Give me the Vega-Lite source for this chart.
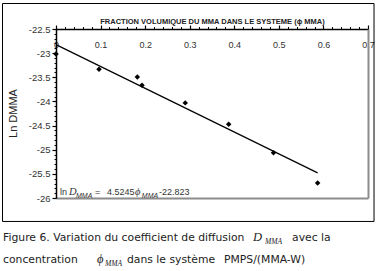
{
  "$schema": "https://vega.github.io/schema/vega-lite/v6.json",
  "width": 312,
  "height": 169,
  "autosize": {"type": "none"},
  "padding": {"left": 56, "top": 29, "right": 9, "bottom": 73},
  "background": "white",
  "config": {
    "view": {"stroke": null},
    "axis": {"grid": false, "labelFont": "Liberation Sans", "titleFont": "Liberation Sans", "labelColor": "#333", "titleColor": "#222", "domainColor": "black", "tickColor": "black"}
  },
  "datasets": {
    "pts": [
      {"phi": 0.0, "lnD": -23.02},
      {"phi": 0.0965, "lnD": -23.335},
      {"phi": 0.1825, "lnD": -23.494},
      {"phi": 0.193, "lnD": -23.666},
      {"phi": 0.29, "lnD": -24.03},
      {"phi": 0.3874, "lnD": -24.474},
      {"phi": 0.488, "lnD": -25.065},
      {"phi": 0.587, "lnD": -25.69}
    ],
    "fit": [
      {"phi": 0.0, "lnD": -22.823},
      {"phi": 0.587, "lnD": -25.479}
    ],
    "txt": [
      {"g": "eq", "x": 0.009, "y": -25.938, "t": "ln"},
      {"g": "eq", "x": 0.0875, "y": -25.938, "t": "="},
      {"g": "eq", "x": 0.1144, "y": -25.938, "t": "4.5245"},
      {"g": "eq", "x": 0.2311, "y": -25.938, "t": "-22.823"},
      {"g": "eqi", "x": 0.0292, "y": -25.938, "t": "D"},
      {"g": "eqi", "x": 0.1775, "y": -25.938, "t": "ϕ"},
      {"g": "eqs", "x": 0.0449, "y": -26.0, "t": "MMA"},
      {"g": "eqs", "x": 0.1925, "y": -26.0, "t": "MMA"},
      {"g": "cap", "x": -0.1189, "y": -26.89, "t": "Figure 6. Variation du coefficient de diffusion"},
      {"g": "cap", "x": 0.5296, "y": -26.89, "t": "avec la"},
      {"g": "cap", "x": -0.1189, "y": -27.346, "t": "concentration"},
      {"g": "cap", "x": 0.1593, "y": -27.346, "t": "dans le système"},
      {"g": "cap", "x": 0.3770, "y": -27.346, "t": "PMPS/(MMA-W)"},
      {"g": "capi", "x": 0.4420, "y": -26.89, "t": "D"},
      {"g": "capi", "x": 0.0920, "y": -27.346, "t": "ϕ"},
      {"g": "caps", "x": 0.4690, "y": -26.952, "t": "MMA"},
      {"g": "caps", "x": 0.1100, "y": -27.408, "t": "MMA"}
    ],
    "frame": [
      {"x1": -0.12, "x2": 0.7135, "y1": -21.972, "y2": -26.486}
    ]
  },
  "resolve": {"axis": {"x": "independent", "y": "independent"}},
  "layer": [
    {
      "data": {"name": "pts"},
      "mark": {"type": "point", "shape": "diamond", "filled": true, "color": "black", "size": 30, "opacity": 1},
      "encoding": {
        "x": {"field": "phi", "type": "quantitative", "scale": {"domain": [0, 0.7], "nice": false, "zero": false},
          "axis": {"orient": "top", "values": [0, 0.1, 0.2, 0.3, 0.4, 0.5, 0.6, 0.7], "format": "~g", "tickSize": 4, "tickWidth": 1.2, "domainWidth": 1.5, "labelPadding": -15, "labelBaseline": "top", "labelFontSize": 9, "labelFlush": false, "labelOverlap": false,
            "title": "FRACTION VOLUMIQUE DU MMA DANS LE SYSTEME (ϕ MMA)", "titleFontSize": 7.5, "titleFontWeight": "bold", "titleY": -6, "titleBaseline": "alphabetic"}},
        "y": {"field": "lnD", "type": "quantitative", "scale": {"domain": [-26, -22.5], "nice": false, "zero": false},
          "axis": {"orient": "left", "values": [-22.5, -23, -23.5, -24, -24.5, -25, -25.5, -26], "format": "~g", "labelExpr": "replace(datum.label, '−', '-')", "tickSize": 4, "tickWidth": 1.2, "domainWidth": 1.5, "labelPadding": 2, "labelFontSize": 9.5, "labelOverlap": false, "labelFlush": false,
            "title": "Ln DMMA", "titleFontSize": 11, "titleFontWeight": "normal", "titleX": -43, "titleY": 84, "titleAlign": "center", "titleBaseline": "middle", "titleAngle": -90}}
      }
    },
    {
      "data": {"name": "fit"},
      "mark": {"type": "line", "color": "black", "strokeWidth": 1.2},
      "encoding": {
        "x": {"field": "phi", "type": "quantitative",
          "axis": {"orient": "top", "values": [0, 0.02, 0.04, 0.06, 0.08, 0.1, 0.12, 0.14, 0.16, 0.18, 0.2, 0.22, 0.24, 0.26, 0.28, 0.3, 0.32, 0.34, 0.36, 0.38, 0.4, 0.42, 0.44, 0.46, 0.48, 0.5, 0.52, 0.54, 0.56, 0.58, 0.6, 0.62, 0.64, 0.66, 0.68, 0.7], "labels": false, "domain": false, "tickSize": 2.5, "title": null}},
        "y": {"field": "lnD", "type": "quantitative",
          "axis": {"orient": "left", "values": [-22.5, -22.6, -22.7, -22.8, -22.9, -23, -23.1, -23.2, -23.3, -23.4, -23.5, -23.6, -23.7, -23.8, -23.9, -24, -24.1, -24.2, -24.3, -24.4, -24.5, -24.6, -24.7, -24.8, -24.9, -25, -25.1, -25.2, -25.3, -25.4, -25.5, -25.6, -25.7, -25.8, -25.9, -26], "labels": false, "domain": false, "tickSize": 2, "title": null}}
      }
    },
    {
      "data": {"name": "txt"},
      "transform": [{"filter": "datum.g == 'eq'"}],
      "mark": {"type": "text", "align": "left", "baseline": "alphabetic", "font": "Liberation Sans", "fontSize": 9, "color": "#333"},
      "encoding": {
        "x": {"field": "x", "type": "quantitative", "axis": {"orient": "bottom", "domainColor": "#8c8c8c", "domainWidth": 2, "ticks": false, "labels": false, "title": null}},
        "y": {"field": "y", "type": "quantitative", "axis": {"orient": "right", "domainColor": "#8c8c8c", "domainWidth": 2, "ticks": false, "labels": false, "title": null}},
        "text": {"field": "t"}
      }
    },
    {
      "data": {"name": "txt"},
      "transform": [{"filter": "datum.g == 'eqi'"}],
      "mark": {"type": "text", "align": "left", "baseline": "alphabetic", "font": "Liberation Serif", "fontStyle": "italic", "fontSize": 10.5, "color": "#333"},
      "encoding": {
        "x": {"field": "x", "type": "quantitative", "axis": null},
        "y": {"field": "y", "type": "quantitative", "axis": null},
        "text": {"field": "t"}
      }
    },
    {
      "data": {"name": "txt"},
      "transform": [{"filter": "datum.g == 'eqs'"}],
      "mark": {"type": "text", "align": "left", "baseline": "alphabetic", "font": "Liberation Sans", "fontStyle": "italic", "fontSize": 7, "color": "#333"},
      "encoding": {
        "x": {"field": "x", "type": "quantitative", "axis": null},
        "y": {"field": "y", "type": "quantitative", "axis": null},
        "text": {"field": "t"}
      }
    },
    {
      "data": {"name": "txt"},
      "transform": [{"filter": "datum.g == 'cap'"}],
      "mark": {"type": "text", "align": "left", "baseline": "alphabetic", "font": "DejaVu Sans", "fontSize": 10.8, "color": "#222"},
      "encoding": {
        "x": {"field": "x", "type": "quantitative", "axis": null},
        "y": {"field": "y", "type": "quantitative", "axis": null},
        "text": {"field": "t"}
      }
    },
    {
      "data": {"name": "txt"},
      "transform": [{"filter": "datum.g == 'capi'"}],
      "mark": {"type": "text", "align": "left", "baseline": "alphabetic", "font": "Liberation Serif", "fontStyle": "italic", "fontSize": 12.5, "color": "#222"},
      "encoding": {
        "x": {"field": "x", "type": "quantitative", "axis": null},
        "y": {"field": "y", "type": "quantitative", "axis": null},
        "text": {"field": "t"}
      }
    },
    {
      "data": {"name": "txt"},
      "transform": [{"filter": "datum.g == 'caps'"}],
      "mark": {"type": "text", "align": "left", "baseline": "alphabetic", "font": "Liberation Serif", "fontStyle": "italic", "fontSize": 7.5, "color": "#222"},
      "encoding": {
        "x": {"field": "x", "type": "quantitative", "axis": null},
        "y": {"field": "y", "type": "quantitative", "axis": null},
        "text": {"field": "t"}
      }
    },
    {
      "data": {"name": "frame"},
      "mark": {"type": "rect", "fill": null, "stroke": "black", "strokeWidth": 1},
      "encoding": {
        "x": {"field": "x1", "type": "quantitative", "axis": null},
        "x2": {"field": "x2"},
        "y": {"field": "y1", "type": "quantitative", "axis": null},
        "y2": {"field": "y2"}
      }
    }
  ]
}
